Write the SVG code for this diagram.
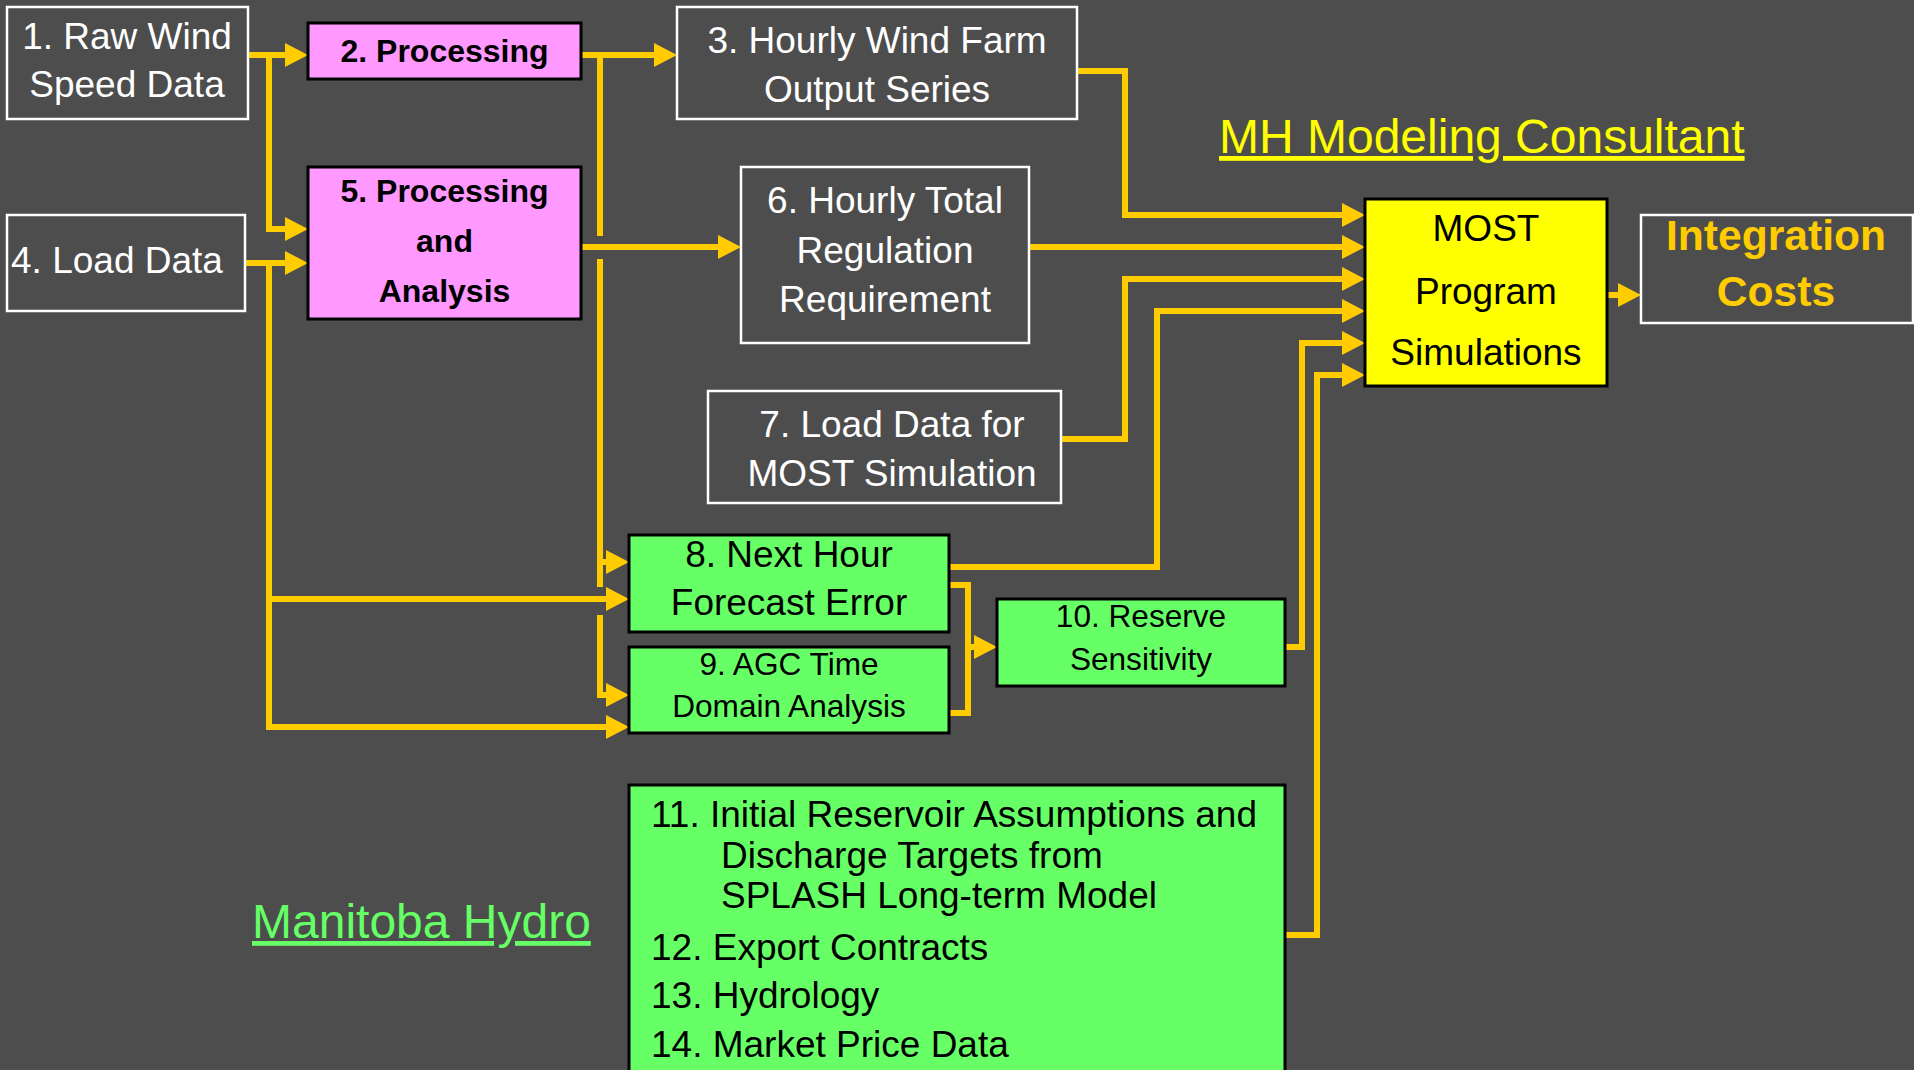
<svg xmlns="http://www.w3.org/2000/svg" width="1914" height="1070" viewBox="0 0 1914 1070">
<style>
.bg{fill:#4d4d4d}
.wb{fill:none;stroke:#ffffff;stroke-width:2.5}
.pb{fill:#ff99ff;stroke:#000000;stroke-width:3}
.gb{fill:#66ff66;stroke:#000000;stroke-width:3}
.yb{fill:#ffff00;stroke:#000000;stroke-width:3}
text{font-family:"Liberation Sans",Arial,sans-serif}
.w{fill:#ffffff;font-size:37px;text-anchor:middle}
.pk{fill:#000000;font-size:32px;font-weight:bold;text-anchor:middle}
.k{fill:#000000;font-size:37px;text-anchor:middle}
.ks{fill:#000000;font-size:31.6px;text-anchor:middle}
.kl{fill:#000000;font-size:37px;text-anchor:start}
.ic{fill:#ffcc00;font-size:42.6px;font-weight:bold;text-anchor:middle}
.ttl{font-size:48px;text-decoration:underline;text-decoration-skip-ink:none}
.c{fill:none;stroke:#ffcc00;stroke-width:6;stroke-linejoin:miter;stroke-linecap:butt}
.ca{marker-end:url(#ah)}
</style>
<defs>
<marker id="ah" markerUnits="userSpaceOnUse" markerWidth="24" markerHeight="24" refX="3" refY="12" orient="auto">
<path d="M0,0 L23,12 L0,24 z" fill="#ffcc00"/>
</marker>
</defs>
<rect class="bg" x="0" y="0" width="1914" height="1070"/>

<g id="connectors">
<path class="c ca" d="M248,55 H288"/>
<path class="c ca" d="M269,55 V229 H288"/>
<path class="c ca" d="M246,263 H288"/>
<path class="c ca" d="M269,263 V727 H609"/>
<path class="c ca" d="M269,599 H609"/>
<path class="c ca" d="M581,55 H657"/>
<path class="c" d="M600,55 V236"/>
<path class="c" d="M600,259 V587"/>
<path class="c ca" d="M600,562 H609"/>
<path class="c ca" d="M600,615 V695 H609"/>
<path class="c ca" d="M581,247 H721"/>
<path class="c ca" d="M1077,71 H1125 V215 H1345"/>
<path class="c ca" d="M1029,247 H1345"/>
<path class="c ca" d="M1061,439 H1125 V279 H1345"/>
<path class="c ca" d="M949,567 H1157 V311 H1345"/>
<path class="c ca" d="M1285,647 H1302 V343 H1345"/>
<path class="c ca" d="M1285,935 H1317 V375 H1345"/>
<path class="c" d="M949,585 H968 V713 H949"/>
<path class="c ca" d="M968,647 H977"/>
<path class="c ca" d="M1607,295 H1621"/>
</g>

<g id="node1">
<rect class="wb" x="7" y="7" width="241" height="112"/>
<text class="w" x="127" y="49">1. Raw Wind</text>
<text class="w" x="127" y="97">Speed Data</text>
</g>
<g id="node2">
<rect class="pb" x="308" y="23" width="273" height="56"/>
<text class="pk" x="444.5" y="62">2. Processing</text>
</g>
<g id="node3">
<rect class="wb" x="677" y="7" width="400" height="112"/>
<text class="w" x="877" y="53">3. Hourly Wind Farm</text>
<text class="w" x="877" y="102">Output Series</text>
</g>
<g id="node4">
<rect class="wb" x="7" y="215" width="238" height="96"/>
<text class="w" x="117" y="273">4. Load Data</text>
</g>
<g id="node5">
<rect class="pb" x="308" y="167" width="273" height="152"/>
<text class="pk" x="444.5" y="202">5. Processing</text>
<text class="pk" x="444.5" y="252">and</text>
<text class="pk" x="444.5" y="302">Analysis</text>
</g>
<g id="node6">
<rect class="wb" x="741" y="167" width="288" height="176"/>
<text class="w" x="885" y="213">6. Hourly Total</text>
<text class="w" x="885" y="263">Regulation</text>
<text class="w" x="885" y="312">Requirement</text>
</g>
<g id="node7">
<rect class="wb" x="708" y="391" width="353" height="112"/>
<text class="w" x="892" y="437">7. Load Data for</text>
<text class="w" x="892" y="486">MOST Simulation</text>
</g>
<g id="node8">
<rect class="gb" x="629" y="535" width="320" height="97"/>
<text class="k" x="789" y="567">8. Next Hour</text>
<text class="k" x="789" y="615">Forecast Error</text>
</g>
<g id="node9">
<rect class="gb" x="629" y="647" width="320" height="86"/>
<text class="ks" x="789" y="675">9. AGC Time</text>
<text class="ks" x="789" y="717">Domain Analysis</text>
</g>
<g id="node10">
<rect class="gb" x="997" y="599" width="288" height="87"/>
<text class="ks" x="1141" y="627">10. Reserve</text>
<text class="ks" x="1141" y="670">Sensitivity</text>
</g>
<g id="node11">
<rect class="gb" x="629" y="785" width="656" height="300"/>
<text class="kl" x="651" y="827">11. Initial Reservoir Assumptions and</text>
<text class="kl" x="721" y="868">Discharge Targets from</text>
<text class="kl" x="721" y="908">SPLASH Long-term Model</text>
<text class="kl" x="651" y="960">12. Export Contracts</text>
<text class="kl" x="651" y="1008">13. Hydrology</text>
<text class="kl" x="651" y="1057">14. Market Price Data</text>
</g>
<g id="nodeMOST">
<rect class="yb" x="1365" y="199" width="242" height="187"/>
<text class="k" x="1486" y="241">MOST</text>
<text class="k" x="1486" y="304">Program</text>
<text class="k" x="1486" y="365">Simulations</text>
</g>
<g id="nodeIntegration">
<rect class="wb" x="1641" y="215" width="272" height="108"/>
<text class="ic" x="1776" y="250">Integration</text>
<text class="ic" x="1776" y="306">Costs</text>
</g>
<g id="labelMH">
<text class="ttl" x="1219" y="153" fill="#ffff00">MH Modeling Consultant</text>
</g>
<g id="labelManitoba">
<text class="ttl" x="252" y="938" fill="#66ff66">Manitoba Hydro</text>
</g>
</svg>
